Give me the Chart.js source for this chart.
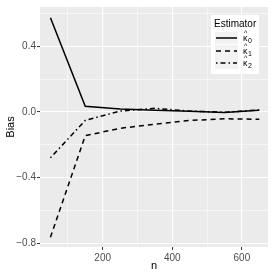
<!DOCTYPE html>
<html>
<head>
<meta charset="utf-8">
<script src="https://cdn.jsdelivr.net/npm/chart.js@4"></script>
<style>
  html, body { margin: 0; padding: 0; background: #ffffff; }
  #wrap { width: 273px; height: 273px; }
</style>
</head>
<body>
<div id="wrap"><canvas id="biasChart" width="273" height="273"></canvas></div>
<script>
const nValues = [50, 150, 250, 350, 450, 550, 650];
const kappa0 = [0.574, 0.034, 0.018, 0.01, 0.004, -0.004, 0.01];
const kappa1 = [-0.765, -0.145, -0.10, -0.075, -0.052, -0.042, -0.045];
const kappa2 = [-0.28, -0.052, 0.005, 0.022, 0.005, -0.002, 0.012];
const seriesSubs = ['0', '1', '2'];
const xTicks = [100, 200, 300, 400, 500, 600];
const yTicks = [-0.8, -0.6, -0.4, -0.2, 0, 0.2, 0.4, 0.6];

const dashes = [[], [5, 4], [1.5, 3, 5, 3]];

function toPoints(ys) {
    return nValues.map((n, i) => ({ x: n, y: ys[i] }));
}

function isMajorX(v) { return v % 200 === 0; }
function isMajorY(v) { return Math.round(v * 10) % 4 === 0; }

const panelBg = {
    id: 'panelBg',
    beforeDraw(chart) {
        const a = chart.chartArea;
        const ctx = chart.ctx;
        ctx.save();
        ctx.fillStyle = '#ebebeb';
        ctx.fillRect(a.left, a.top, a.right - a.left, a.bottom - a.top);
        ctx.restore();
    }
};

const keyBox = {
    id: 'keyBox',
    afterDraw(chart) {
        const ctx = chart.ctx;
        ctx.save();
        ctx.fillStyle = '#ffffff';
        ctx.fillRect(211, 15, 48, 59);
        ctx.fillStyle = '#000000';
        ctx.font = '10px "Liberation Sans", Arial, sans-serif';
        ctx.textBaseline = 'middle';
        ctx.fillText('Estimator', 214, 24);
        const rows = [38, 51, 63];
        rows.forEach((y, i) => {
            ctx.fillStyle = '#f2f2f2';
            ctx.fillRect(215, y - 6, 23, 12);
            ctx.strokeStyle = '#000000';
            ctx.lineWidth = 1.5;
            ctx.setLineDash(dashes[i]);
            ctx.beginPath();
            ctx.moveTo(216, y);
            ctx.lineTo(237, y);
            ctx.stroke();
            ctx.setLineDash([]);
            ctx.fillStyle = '#000000';
            ctx.font = '9px "Liberation Sans", Arial, sans-serif';
            ctx.fillText('κ', 243, y + 1);
            ctx.font = '7px "Liberation Sans", Arial, sans-serif';
            ctx.fillText('^', 244, y - 5);
            ctx.fillText(seriesSubs[i], 248, y + 3);
        });
        ctx.restore();
    }
};

const makeSet = (label, ys, i) => ({
    label: label,
    data: toPoints(ys),
    showLine: true,
    borderColor: '#000000',
    borderWidth: 1.5,
    borderDash: dashes[i],
    pointRadius: 0,
    fill: false,
    tension: 0
});

const ctx = document.getElementById('biasChart').getContext('2d');
new Chart(ctx, {
    type: 'scatter',
    data: {
        datasets: [
            makeSet('κ̂0', kappa0, 0),
            makeSet('κ̂1', kappa1, 1),
            makeSet('κ̂2', kappa2, 2)
        ]
    },
    options: {
        responsive: false,
        animation: false,
        devicePixelRatio: 1,
        layout: { padding: { left: 4, top: 3, right: 5, bottom: 0 } },
        plugins: {
            legend: { display: false },
            tooltip: { enabled: false }
        },
        scales: {
            x: {
                type: 'linear',
                min: 20,
                max: 675,
                afterBuildTicks: scale => { scale.ticks = xTicks.map(v => ({ value: v })); },
                afterFit: scale => { scale.height = 26; },
                border: { display: false },
                grid: {
                    color: c => '#ffffff',
                    lineWidth: c => isMajorX(c.tick.value) ? 1.1 : 0.5,
                    tickColor: c => isMajorX(c.tick.value) ? '#333333' : 'rgba(0,0,0,0)',
                    tickLength: 3,
                    tickWidth: 1
                },
                ticks: {
                    autoSkip: false,
                    maxRotation: 0,
                    padding: 2,
                    color: '#4d4d4d',
                    font: { family: '"Liberation Sans", Arial, sans-serif', size: 10 },
                    callback: v => isMajorX(v) ? String(v) : ''
                },
                title: {
                    display: true,
                    text: 'n',
                    color: '#000000',
                    padding: { top: 0, bottom: 0 },
                    font: { family: '"Liberation Sans", Arial, sans-serif', size: 11 }
                }
            },
            y: {
                min: -0.824,
                max: 0.64,
                afterBuildTicks: scale => { scale.ticks = yTicks.map(v => ({ value: v })); },
                afterFit: scale => { scale.width = 36; },
                border: { display: false },
                grid: {
                    color: c => '#ffffff',
                    lineWidth: c => isMajorY(c.tick.value) ? 1.1 : 0.5,
                    tickColor: c => isMajorY(c.tick.value) ? '#333333' : 'rgba(0,0,0,0)',
                    tickLength: 3,
                    tickWidth: 1
                },
                ticks: {
                    autoSkip: false,
                    padding: 1,
                    color: '#4d4d4d',
                    font: { family: '"Liberation Sans", Arial, sans-serif', size: 10 },
                    callback: v => isMajorY(v) ? (v < 0 ? '\u2212' : '') + Math.abs(v).toFixed(1) : ''
                },
                title: {
                    display: true,
                    text: 'Bias',
                    color: '#000000',
                    padding: { top: 0, bottom: 0 },
                    font: { family: '"Liberation Sans", Arial, sans-serif', size: 11 }
                }
            }
        }
    },
    plugins: [panelBg, keyBox]
});
</script>
</body>
</html>
